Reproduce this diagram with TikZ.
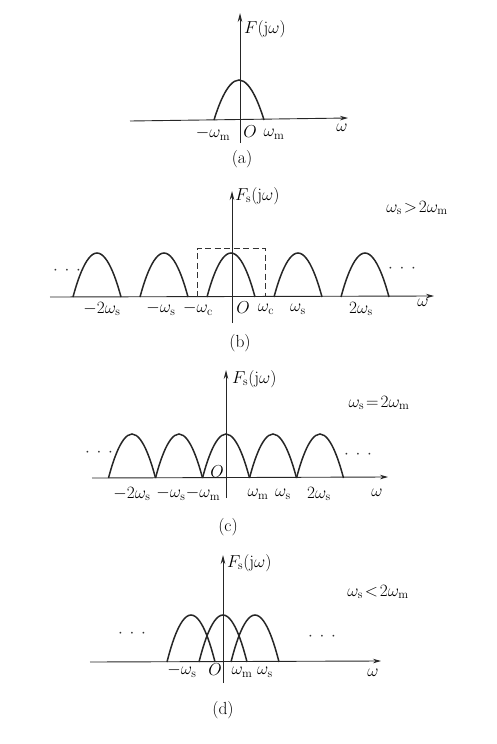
\documentclass[tikz,border=0pt]{standalone}
\usetikzlibrary{arrows.meta}
\tikzset{
  ax/.style={line width=0.9pt, draw=black!85, -{Stealth[length=8pt,width=4.5pt]}},
  vax/.style={line width=0.9pt, draw=black!85, -{Stealth[length=9pt,width=4.5pt]}},
  bump/.style={line width=1.5pt, draw=black!85},
  lbl/.style={font=\fontsize{17.5}{19}\selectfont, inner sep=0pt, text=black},
  dots/.style={font=\fontsize{17.5}{19}\selectfont, inner sep=0pt, text=black!80},
  box/.style={line width=0.9pt, draw=black!80, dash pattern=on 6pt off 3.5pt},
}
\newcommand{\archbump}[4]{% center x, base y, peak y, half width
  \draw[bump] (#1-#4,#2) parabola bend (#1,#3) (#1+#4,#2);}
\begin{document}
\begin{tikzpicture}[x=1pt,y=-1pt]
\useasboundingbox (0,0) rectangle (496,744);
% ---------------- (a)
\draw[ax] (130,121) -- (348,118);
\draw[vax] (240,143) -- (240,13);
\archbump{239}{120}{80}{25}
\node[lbl, anchor=west] (aF) at (244,29) {$F(\mathrm{j}\omega)$};
\node[lbl] (am1) at (213,134) {$-\omega_{\mathrm{m}}$};
\node[lbl] (aO) at (250,132) {$O$};
\node[lbl] (am2) at (274,134) {$\omega_{\mathrm{m}}$};
\node[lbl] (aw) at (342,128) {$\omega$};
\node[lbl] (acap) at (242,159) {(a)};
% ---------------- (b)
\draw[ax] (50,297) -- (434,296);
\draw[vax] (232,323) -- (232,191);
\foreach \k in {-2,-1,0,1,2} {\archbump{231+67*\k}{297}{253}{24}}
\draw[box] (197,297) -- (197,248) -- (265,248) -- (265,297);
\node[lbl, anchor=west] (bF) at (235,196) {$F_{\mathrm{s}}(\mathrm{j}\omega)$};
\node[lbl] (bcond) at (417,208) {$\omega_{\mathrm{s}}\!>\!2\omega_{\mathrm{m}}$};
\node[dots] (bd1) at (67,271) {$\cdot\,\cdot\,\cdot$};
\node[dots] (bd2) at (402,269) {$\cdot\,\cdot\,\cdot$};
\node[lbl] (b1) at (102,309) {$-2\omega_{\mathrm{s}}$};
\node[lbl] (b2) at (161,309) {$-\omega_{\mathrm{s}}$};
\node[lbl] (b3) at (198,309) {$-\omega_{\mathrm{c}}$};
\node[lbl] (b4) at (243,308) {$O$};
\node[lbl] (b5) at (266,309) {$\omega_{\mathrm{c}}$};
\node[lbl] (b6) at (298,309) {$\omega_{\mathrm{s}}$};
\node[lbl] (b7) at (361,309) {$2\omega_{\mathrm{s}}$};
\node[lbl] (bw) at (423,303) {$\omega$};
\node[lbl] (bcap) at (240,343) {(b)};
% ---------------- (c)
\draw[ax] (92,478) -- (388,477);
\draw[vax] (226,498) -- (226,370);
\foreach \k in {-2,-1,0,1,2} {\archbump{226+47*\k}{478}{434}{23.5}}
\node[lbl, anchor=west] (cF) at (232,379) {$F_{\mathrm{s}}(\mathrm{j}\omega)$};
\node[lbl] (ccond) at (379,403) {$\omega_{\mathrm{s}}\!=\!2\omega_{\mathrm{m}}$};
\node[dots] (cd1) at (99,453) {$\cdot\,\cdot\,\cdot$};
\node[dots] (cd2) at (358,455) {$\cdot\,\cdot\,\cdot$};
\node[lbl] (cO) at (217,472) {$O$};
\node[lbl] (c1) at (132,494) {$-2\omega_{\mathrm{s}}$};
\node[lbl] (c2) at (171,494) {$-\omega_{\mathrm{s}}$};
\node[lbl] (c3) at (203,494) {$-\omega_{\mathrm{m}}$};
\node[lbl] (c4) at (258,494) {$\omega_{\mathrm{m}}$};
\node[lbl] (c5) at (283,494) {$\omega_{\mathrm{s}}$};
\node[lbl] (c6) at (319,494) {$2\omega_{\mathrm{s}}$};
\node[lbl] (cw) at (377,493) {$\omega$};
\node[lbl] (ccap) at (228,527) {(c)};
% ---------------- (d)
\draw[ax] (90,662) -- (381,661);
\draw[vax] (223,683) -- (223,555);
\foreach \k in {-1,0,1} {\archbump{223+32*\k}{662}{615}{24}}
\node[lbl, anchor=west] (dF) at (227,563) {$F_{\mathrm{s}}(\mathrm{j}\omega)$};
\node[lbl] (dcond) at (378,592) {$\omega_{\mathrm{s}}\!<\!2\omega_{\mathrm{m}}$};
\node[dots] (dd1) at (132,634) {$\cdot\,\cdot\,\cdot$};
\node[dots] (dd2) at (322,637) {$\cdot\,\cdot\,\cdot$};
\node[lbl] (d1) at (182,671) {$-\omega_{\mathrm{s}}$};
\node[lbl] (dO) at (215,670) {$O$};
\node[lbl] (d2) at (242,672) {$\omega_{\mathrm{m}}$};
\node[lbl] (d3) at (265,672) {$\omega_{\mathrm{s}}$};
\node[lbl] (dw) at (373,673) {$\omega$};
\node[lbl] (dcap) at (223,710) {(d)};
\end{tikzpicture}
\end{document}
